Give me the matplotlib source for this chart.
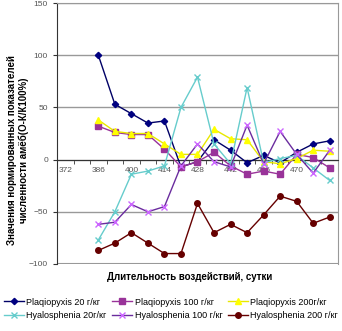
import matplotlib
matplotlib.use("Agg")
import matplotlib.pyplot as plt

plt.rcParams['font.family'] = ['Liberation Sans', 'DejaVu Sans']

# categories on the x axis (days), data start at 386
days = [372, 379, 386, 393, 400, 407, 414, 421, 428, 435, 442, 449, 456, 463, 470, 477, 484]
data_days = days[2:]
tick_days = [372, 386, 400, 414, 428, 442, 456, 470]

plaq20 = [100, 53, 44, 35, 37, -7, -2, 19, 9, -3, 4, -3, 7, 15, 18]
plaq100 = [32, 26, 24, 24, 10, -7, -2, 7, -6, -14, -11, -14, 5, 2, -8]
plaq200 = [38, 27, 25, 25, 15, 5, 5, 29, 20, 19, -2, -4, 1, 9, 8]
hyal20 = [-77, -50, -14, -11, -6, 50, 79, 15, -4, 69, -3, 1, 4, -8, -20]
hyal100 = [-62, -60, -43, -50, -45, -6, 15, -2, -7, 33, -4, 27, 5, -13, 9]
hyal200 = [-87, -80, -70, -80, -90, -90, -42, -70, -62, -70, -53, -35, -40, -61, -55]

labels = ['Plaqiopyxis 20 г/кг', 'Plaqiopyxis 100 г/кг', 'Plaqiopyxis 200г/кг',
          'Hyalosphenia 20г/кг', 'Hyalosphenia 100 г/кг', 'Hyalosphenia 200 г/кг']
series = [plaq20, plaq100, plaq200, hyal20, hyal100, hyal200]
line_colors = ['#000066', '#993399', '#E8E800', '#66CCCC', '#6A2C9E', '#660000']
face_colors = ['#000080', '#993399', '#FFFF00', '#66CCCC', '#CC66FF', '#660000']
markers = ['D', 's', '^', 'x', 'x', 'o']
msizes = [3.2, 4, 4, 4, 4, 4]

fig = plt.figure(figsize=(3.42, 3.31), dpi=100)
ax = fig.add_axes([57 / 342, 1 - 264 / 331, 281 / 342, 261 / 331])

xpos = [days.index(d) + 0.5 for d in data_days]
handles = []
for vals, lab, lc, fc, mk, ms in zip(series, labels, line_colors, face_colors, markers, msizes):
    h, = ax.plot(xpos, vals, color=lc, lw=1, marker=mk, ms=ms,
                 mfc=fc, mec=fc, mew=1, label=lab, zorder=3)
    handles.append(h)

ax.set_xlim(0, len(days))
ax.set_ylim(-100, 150)
ax.set_yticks([-100, -50, 0, 50, 100, 150])
ax.yaxis.grid(True, color='#999999', lw=1)
ax.set_axisbelow(True)

ax.spines['bottom'].set_position(('data', 0))
ax.spines['bottom'].set_color('#333333')
ax.spines['left'].set_color('#333333')
for s in ['top', 'right']:
    ax.spines[s].set_color('#999999')
ax.set_xticks([days.index(d) + 0.5 for d in tick_days])
ax.set_xticklabels([str(d) for d in tick_days])
ax.set_xticks(range(len(days) + 1), minor=True)
ax.tick_params(axis='x', which='major', length=0, labelsize=6, labelcolor='#555555', pad=5)
ax.tick_params(axis='x', which='minor', length=3, color='#333333', direction='out')
ax.tick_params(axis='y', length=3, labelsize=6, labelcolor='#555555', color='#333333')

# frame bottom at -100
ax.axhline(-100, color='#999999', lw=1.5, zorder=1)

fig.text(0.052, 1 - 150 / 331, 'Значения нормированных показателей\nчисленности амёб(О-К/К100%)',
         rotation=90, ha='center', va='center', fontsize=7, fontweight='bold', linespacing=1.2)
fig.text(190 / 342, 1 - 277 / 331, 'Длительность воздействий, сутки',
         ha='center', va='center', fontsize=7, fontweight='bold')

order = [0, 3, 1, 4, 2, 5]
fig.legend([handles[i] for i in order], [labels[i] for i in order], ncol=3,
           loc='center', bbox_to_anchor=(0.5, 1 - 309 / 331), frameon=False,
           fontsize=6.5, handlelength=2.2, handletextpad=0.3, columnspacing=0.6,
           labelspacing=0.55, borderaxespad=0)

fig.savefig('out.png', dpi=100)
